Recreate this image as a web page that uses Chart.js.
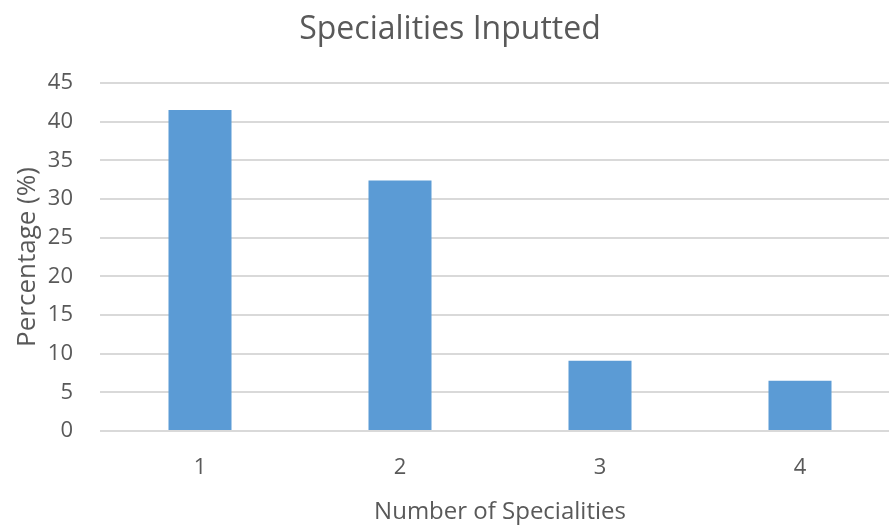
<!DOCTYPE html>
<html>
<head>
<meta charset="utf-8">
<script src="https://cdn.jsdelivr.net/npm/chart.js@4/dist/chart.umd.min.js"></script>
<style>
  html, body { margin: 0; padding: 0; background: #ffffff; overflow: hidden; }
  #wrap { width: 900px; height: 525px; }
</style>
</head>
<body>
<div id="wrap"><canvas id="chart" width="900" height="525"></canvas></div>
<script>
// Share of respondents by how many specialities they entered
const categories = ['1', '2', '3', '4'];
const percentages = [41.5, 32.4, 9.1, 6.5];
const yTicks = [0, 5, 10, 15, 20, 25, 30, 35, 40, 45];

const textColor = '#595959';
const fontFamily = '"Open Sans", "DejaVu Sans", sans-serif';

new Chart(document.getElementById('chart'), {
  type: 'bar',
  data: {
    labels: categories,
    datasets: [{
      data: percentages,
      backgroundColor: '#5B9BD5',
      borderWidth: 0,
      barPercentage: 0.315,
      categoryPercentage: 1.0
    }]
  },
  options: {
    responsive: false,
    animation: false,
    devicePixelRatio: 1,
    layout: { padding: { left: 0, right: 0, top: 0, bottom: 0 } },
    plugins: {
      legend: { display: false },
      tooltip: { enabled: false },
      title: {
        display: true,
        text: 'Specialities Inputted',
        color: textColor,
        font: { family: fontFamily, size: 32, weight: 'normal' },
        padding: { top: 11, bottom: 33.6 }
      }
    },
    scales: {
      x: {
        grid: { display: false, drawTicks: false },
        border: { display: false },
        ticks: {
          color: textColor,
          font: { family: fontFamily, size: 22 },
          padding: 24
        },
        title: {
          display: true,
          text: 'Number of Specialities',
          color: textColor,
          font: { family: fontFamily, size: 24, lineHeight: 1.0 },
          padding: { top: 0, bottom: 1 }
        },
        afterFit: (scale) => { scale.height = 94; }
      },
      y: {
        min: 0,
        max: 45,
        afterBuildTicks: (scale) => { scale.ticks = yTicks.map(v => ({ value: v })); },
        grid: { color: '#D9D9D9', lineWidth: 2, drawTicks: false },
        border: { display: false },
        ticks: {
          color: textColor,
          font: { family: fontFamily, size: 22 },
          padding: 27
        },
        title: {
          display: true,
          text: 'Percentage (%)',
          color: textColor,
          font: { family: fontFamily, size: 26 },
          padding: { top: 12, bottom: 0 }
        },
        afterFit: (scale) => { scale.width = 100; }
      }
    }
  }
});
</script>
</body>
</html>
